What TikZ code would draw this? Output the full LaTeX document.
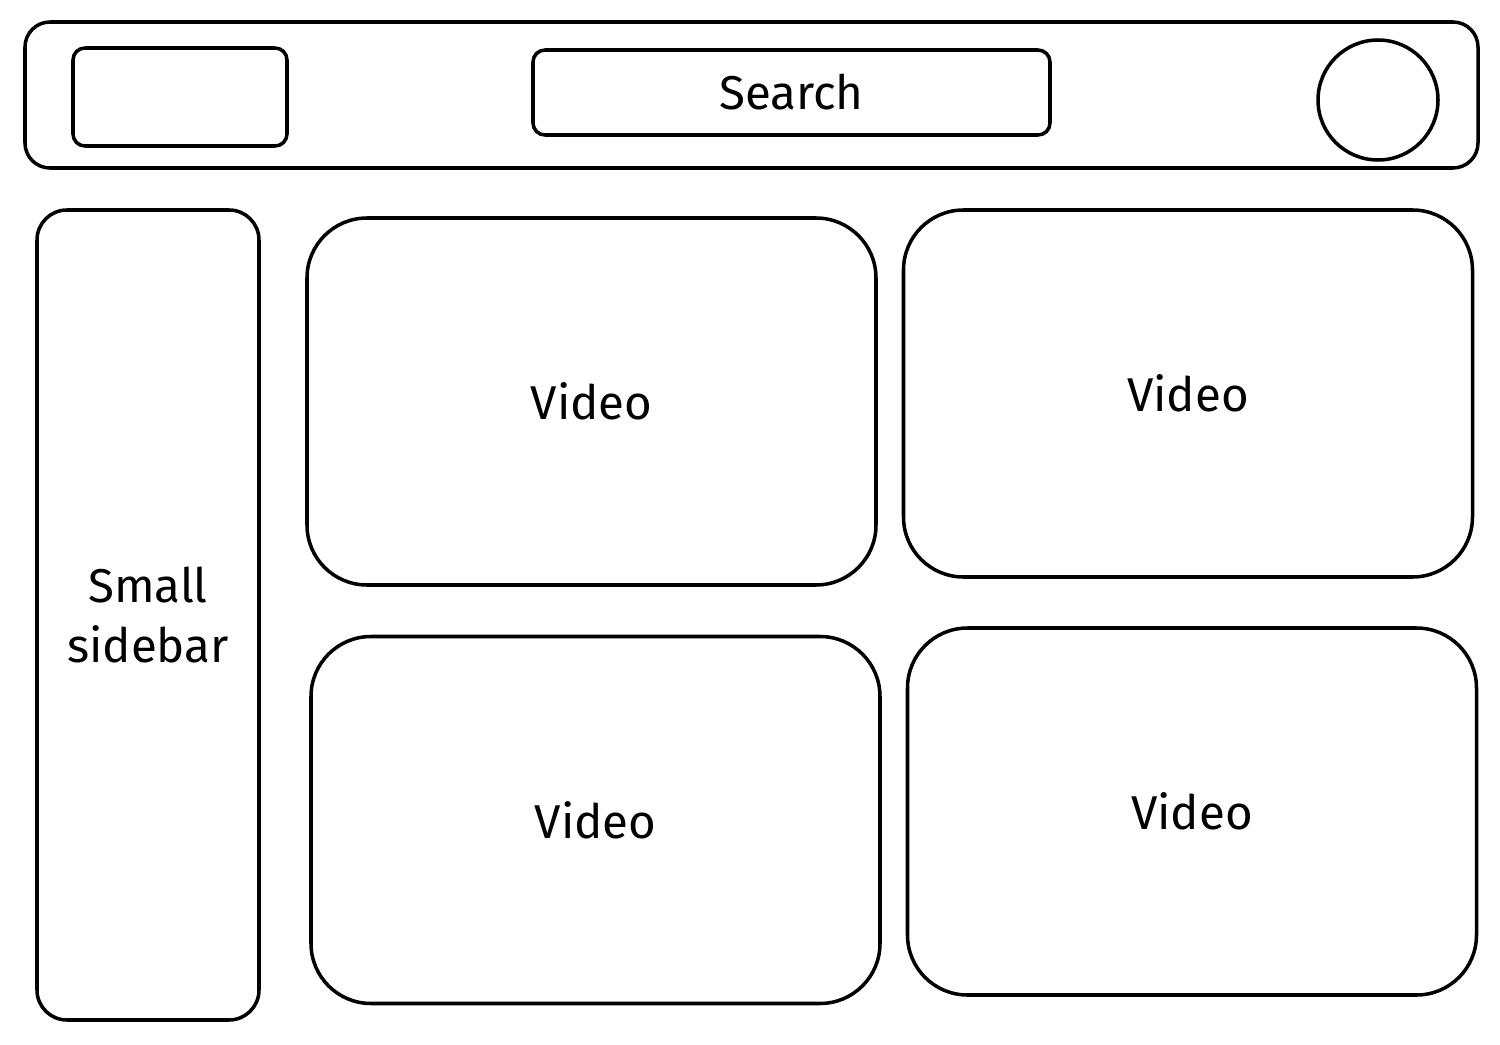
\documentclass[tikz,border=0pt]{standalone}
\usepackage{fontspec}
\setmainfont{Fira Sans}
\usetikzlibrary{positioning}

\begin{document}
\begin{tikzpicture}[
        box/.style={draw,line width=1pt,rounded corners=3pt,align=center,font=\fontsize{13.5}{17}\selectfont},
        card/.style={box,rounded corners=0.6cm,minimum width=5.69cm,minimum height=3.67cm}
      ]
        \useasboundingbox (0,0) rectangle (15,-10.45);
        % top bar
        \node[box,rounded corners=0.25cm,minimum width=14.53cm,minimum height=1.46cm] (bar) at (7.515,-0.95) {};
        \node[box,rounded corners=0.12cm,minimum width=2.14cm,minimum height=0.98cm] (logo) at (1.80,-0.97) {};
        \node[box,rounded corners=0.12cm,minimum width=5.17cm,minimum height=0.85cm] (search) at (7.915,-0.925) {Search};
        \node[draw,line width=1pt,circle,minimum size=1.2cm] (avatar) at (13.78,-1.00) {};
        % sidebar
        \node[box,rounded corners=0.3cm,minimum width=2.22cm,minimum height=8.10cm] (side) at (1.48,-6.15) {Small\\sidebar};
        % videos
        \node[card] (vidA) at (5.915,-4.015) {Video};
        \node[card] (vidB) at (11.88,-3.935) {Video};
        \node[card] (vidC) at (5.955,-8.20) {Video};
        \node[card] (vidD) at (11.92,-8.115) {Video};
      \end{tikzpicture}
\end{document}
